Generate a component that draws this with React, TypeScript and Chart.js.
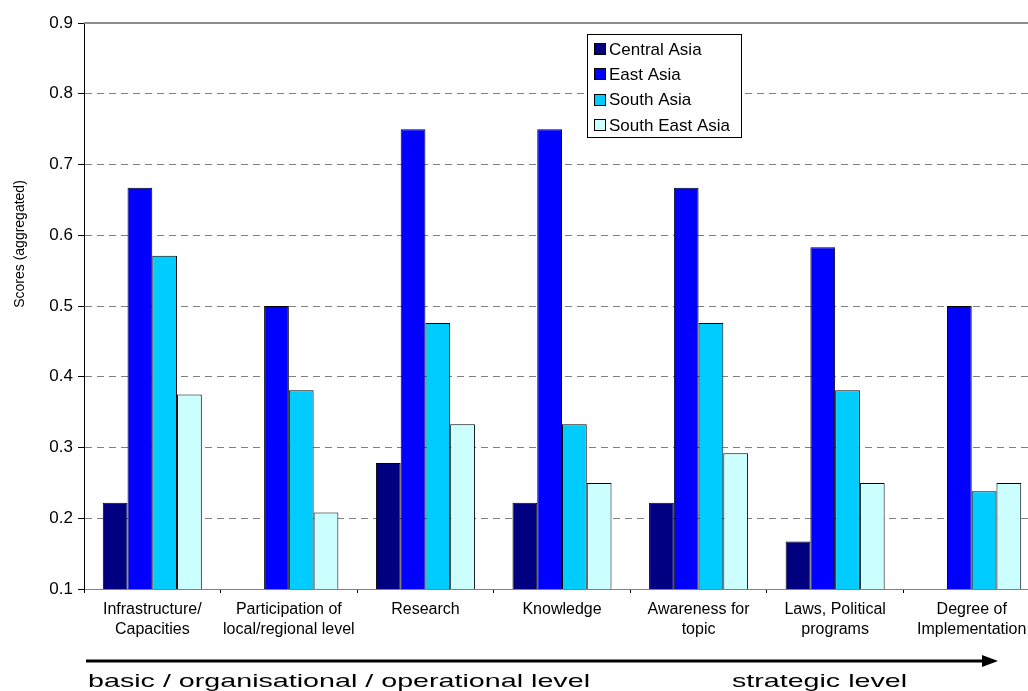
import React, { useEffect, useRef } from 'react';
import { Chart, registerables } from 'chart.js';

Chart.register(...registerables);

const categories: string[][] = [
  ['Infrastructure/', 'Capacities'],
  ['Participation of', 'local/regional level'],
  ['Research'],
  ['Knowledge'],
  ['Awareness for', 'topic'],
  ['Laws, Political', 'programs'],
  ['Degree of', 'Implementation'],
];
const seriesNames = ['Central Asia', 'East Asia', 'South Asia', 'South East Asia'];
const centralAsia = [0.222, null, 0.278, 0.222, 0.222, 0.167, null];
const eastAsia = [0.667, 0.5, 0.75, 0.75, 0.667, 0.583, 0.5];
const southAsia = [0.571, 0.381, 0.476, 0.333, 0.476, 0.381, 0.238];
const southEastAsia = [0.375, 0.208, 0.333, 0.25, 0.292, 0.25, 0.25];
const yTicks = [0.1, 0.2, 0.3, 0.4, 0.5, 0.6, 0.7, 0.8, 0.9];
const yTitle = 'Scores (aggregated)';
const arrowLabels = ['basic / organisational / operational level', 'strategic level'];
const seriesColors = ['#000080', '#0000FF', '#00CCFF', '#CCFFFF'];

const FONT = '"Liberation Sans", Arial, sans-serif';

const decoPlugin = {
  id: 'deco',
  beforeDatasetsDraw(chart: any) {
    const { ctx, chartArea } = chart;
    const y = chart.scales.y.getPixelForValue(yTicks[yTicks.length - 1]);
    ctx.save();
    ctx.strokeStyle = '#8c8c8c';
    ctx.lineWidth = 2;
    ctx.beginPath();
    ctx.moveTo(chartArea.left, y);
    ctx.lineTo(chartArea.right, y);
    ctx.stroke();
    ctx.restore();
  },
  afterDatasetsDraw(chart: any) {
    const { ctx } = chart;
    const bx = 587, by = 34, bw = 154, bh = 103;
    ctx.save();
    ctx.fillStyle = '#ffffff';
    ctx.fillRect(bx, by, bw, bh);
    ctx.strokeStyle = '#000';
    ctx.lineWidth = 1;
    ctx.strokeRect(bx + 0.5, by + 0.5, bw, bh);
    ctx.font = `17px ${FONT}`;
    ctx.textBaseline = 'middle';
    chart.data.datasets.forEach((ds: any, i: number) => {
      const cy = 49 + i * 25.3;
      ctx.fillStyle = ds.backgroundColor;
      ctx.fillRect(594, Math.round(cy - 6), 12, 12);
      ctx.strokeStyle = '#000';
      ctx.strokeRect(594.5, Math.round(cy - 6) + 0.5, 11, 11);
      ctx.fillStyle = '#000';
      ctx.fillText(ds.label, 609, cy + 1);
    });
    ctx.restore();
  },
  afterDraw(chart: any) {
    const { ctx, chartArea } = chart;
    ctx.save();
    ctx.font = `14px ${FONT}`;
    ctx.fillStyle = '#000';
    ctx.textAlign = 'center';
    ctx.textBaseline = 'middle';
    ctx.translate(20, 244);
    ctx.rotate(-Math.PI / 2);
    ctx.fillText(yTitle, 0, 0);
    ctx.restore();

    ctx.save();
    const ay = 661;
    ctx.strokeStyle = '#000';
    ctx.fillStyle = '#000';
    ctx.lineWidth = 3;
    ctx.beginPath();
    ctx.moveTo(chartArea.left + 2, ay);
    ctx.lineTo(984, ay);
    ctx.stroke();
    ctx.beginPath();
    ctx.moveTo(982, ay - 6);
    ctx.lineTo(998, ay);
    ctx.lineTo(982, ay + 6);
    ctx.closePath();
    ctx.fill();

    ctx.font = `19px ${FONT}`;
    ctx.textBaseline = 'alphabetic';
    ctx.textAlign = 'left';
    const drawStretched = (t: string, x: number, y: number, w: number) => {
      const m = ctx.measureText(t).width;
      ctx.save();
      ctx.translate(x, y);
      ctx.scale(w / m, 1);
      ctx.fillText(t, 0, 0);
      ctx.restore();
    };
    drawStretched(arrowLabels[0], 88, 687, 502);
    drawStretched(arrowLabels[1], 732, 687, 175);
    ctx.restore();
  },
};

export default function App() {
  const ref = useRef<HTMLCanvasElement | null>(null);
  useEffect(() => {
    if (!ref.current) return;
    const seriesData = [centralAsia, eastAsia, southAsia, southEastAsia];
    const chart = new Chart(ref.current, {
      type: 'bar',
      data: {
        labels: categories,
        datasets: seriesNames.map((name, i) => ({
          label: name,
          data: seriesData[i],
          backgroundColor: seriesColors[i],
          borderColor: '#000000',
          borderWidth: 1,
          borderSkipped: false,
          categoryPercentage: 0.725,
          barPercentage: 1,
        })),
      },
      options: {
        responsive: false,
        animation: false,
        devicePixelRatio: 1,
        layout: { padding: { top: 23, left: 0, right: 0, bottom: 0 } },
        plugins: {
          legend: { display: false },
          tooltip: { enabled: false },
          title: { display: false },
        },
        scales: {
          x: {
            afterFit(scale: any) {
              scale.height = 102;
            },
            grid: {
              drawOnChartArea: false,
              drawTicks: true,
              tickLength: 4,
              tickColor: '#000',
              offset: true,
            },
            border: { display: true, color: '#808080', width: 1 },
            ticks: {
              color: '#000',
              font: { family: FONT, size: 16, lineHeight: 1.25 },
              padding: 7,
              maxRotation: 0,
              autoSkip: false,
            },
          },
          y: {
            min: 0.1,
            max: 0.9,
            afterFit(scale: any) {
              scale.width = 84;
            },
            afterBuildTicks(scale: any) {
              scale.ticks = yTicks.map((v) => ({ value: v }));
            },
            grid: {
              color: (c: any) =>
                c.tick && (c.tick.value > 0.85 || c.tick.value < 0.15) ? 'rgba(0,0,0,0)' : '#808080',
              tickColor: '#000',
              tickLength: 6,
              drawTicks: true,
            },
            border: { display: true, color: '#000', width: 1, dash: [7, 5] },
            ticks: {
              color: '#000',
              font: { family: FONT, size: 17 },
              padding: 5,
              callback: (v: any) => Number(v).toFixed(1),
            },
          },
        },
      },
      plugins: [decoPlugin],
    });
    return () => chart.destroy();
  }, []);

  return (
    <div
      style={{
        position: 'fixed',
        left: 0,
        top: 0,
        width: 1028,
        height: 691,
        overflow: 'hidden',
        background: '#fff',
      }}
    >
      <canvas ref={ref} width={1040} height={691} style={{ width: 1040, height: 691, display: 'block' }} />
    </div>
  );
}
